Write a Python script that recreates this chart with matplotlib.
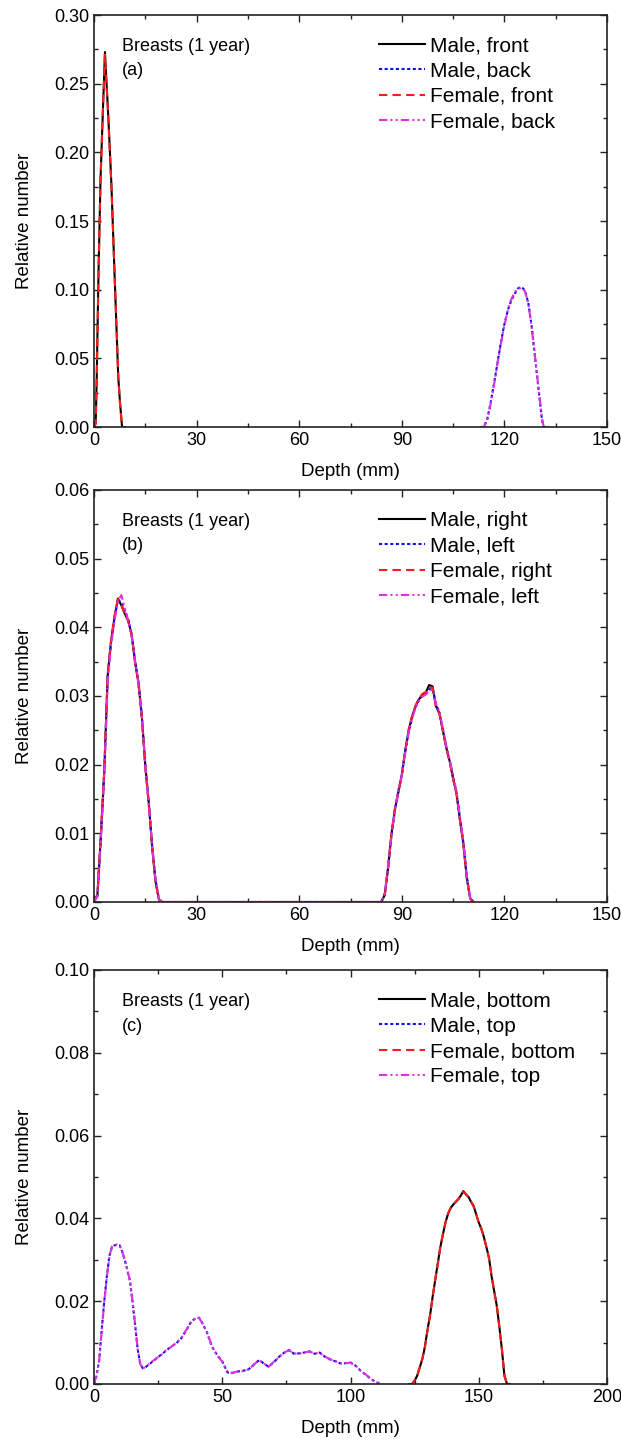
import matplotlib
matplotlib.use("Agg")
import matplotlib.pyplot as plt
from matplotlib.ticker import MultipleLocator, FormatStrFormatter

plt.rcParams['font.family'] = ['Liberation Sans', 'DejaVu Sans']

# ---- panel (a): front / back ----
a_front_x = [0, 0.5, 0.8, 1.3, 1.9, 2.6, 3.2, 4.2, 5.1, 6.1, 7.1, 7.6, 8.2, 9]
a_male_front = [0, 0.003, 0.036, 0.11, 0.18, 0.23, 0.273, 0.225, 0.176, 0.105, 0.036, 0.018, 0, 0]
a_female_front = [0, 0.002, 0.035, 0.108, 0.179, 0.232, 0.271, 0.224, 0.175, 0.106, 0.037, 0.017, 0, 0]
a_back_x = [113, 114, 115, 116, 117, 118, 119, 120, 121, 122, 123, 124, 125, 126,
            127, 128, 129, 130, 131, 131.5, 133]
a_male_back = [0, 0, 0.006, 0.018, 0.032, 0.047, 0.062, 0.075, 0.085, 0.092, 0.097,
               0.101, 0.102, 0.0995, 0.09, 0.073, 0.05, 0.027, 0.005, 0, 0]
a_female_back = [0, 0, 0.005, 0.017, 0.031, 0.047, 0.061, 0.074, 0.085, 0.093, 0.098,
                 0.101, 0.101, 0.099, 0.09, 0.072, 0.05, 0.028, 0.006, 0, 0]

# ---- panel (b): right / left ----
b_x = list(range(0, 21)) + list(range(84, 112))
b_male_right = [0, 0.001, 0.0096, 0.019, 0.033, 0.038, 0.0415, 0.0442, 0.0432, 0.042, 0.041,
                0.039, 0.035, 0.032, 0.027, 0.0199, 0.0145, 0.008, 0.003, 0.0003, 0,
                0, 0.001, 0.005, 0.010, 0.0135, 0.016, 0.0185, 0.022, 0.025, 0.027, 0.0285,
                0.0295, 0.0302, 0.0305, 0.0316, 0.0314, 0.0285, 0.0275, 0.025, 0.0225, 0.0205,
                0.018, 0.0158, 0.012, 0.0085, 0.0035, 0.0005, 0]
b_male_left = [0, 0.0009, 0.0094, 0.0188, 0.0328, 0.0378, 0.0414, 0.044, 0.0436, 0.0424, 0.0412,
               0.0388, 0.0352, 0.0318, 0.0268, 0.0198, 0.0146, 0.0082, 0.0031, 0.0004, 0,
               0, 0.0012, 0.0052, 0.0098, 0.0134, 0.0162, 0.0186, 0.0219, 0.0248, 0.0268, 0.0284,
               0.0294, 0.03, 0.0304, 0.031, 0.031, 0.0288, 0.0276, 0.0252, 0.0226, 0.0206,
               0.0182, 0.016, 0.0122, 0.0087, 0.0037, 0.0006, 0]
b_female_right = [0, 0.0011, 0.0097, 0.0192, 0.0332, 0.0382, 0.0417, 0.0441, 0.0433, 0.0419, 0.0409,
                  0.0389, 0.0349, 0.0319, 0.0269, 0.0197, 0.0143, 0.0079, 0.0029, 0.0003, 0,
                  0, 0.0009, 0.0049, 0.0101, 0.0136, 0.0161, 0.0184, 0.0221, 0.0251, 0.0271, 0.0286,
                  0.0296, 0.0303, 0.0306, 0.0313, 0.0312, 0.0284, 0.0274, 0.0249, 0.0224, 0.0204,
                  0.0179, 0.0157, 0.0119, 0.0084, 0.0034, 0.0005, 0]
b_female_left = [0, 0.0008, 0.009, 0.0185, 0.032, 0.0375, 0.041, 0.0438, 0.0447, 0.0428, 0.041,
                 0.0388, 0.035, 0.0318, 0.027, 0.0198, 0.0145, 0.0082, 0.0032, 0.0004, 0,
                 0, 0.0011, 0.0051, 0.0099, 0.0133, 0.0161, 0.0185, 0.0218, 0.0247, 0.0267, 0.0283,
                 0.0293, 0.0299, 0.0302, 0.0308, 0.0309, 0.0289, 0.0277, 0.0253, 0.0227, 0.0207,
                 0.0183, 0.0161, 0.0123, 0.0088, 0.0038, 0.0006, 0]

# ---- panel (c): bottom / top ----
c_top_x = [0, 1, 2, 3, 4, 5, 6, 7, 8, 9, 10, 11, 12, 13, 14, 15, 16, 17, 18, 19, 20,
           22, 24, 26, 28, 30, 32, 34, 36, 38, 40, 41, 42, 44, 46, 48, 50, 52, 54, 56,
           58, 60, 62, 64, 65, 66, 68, 70, 72, 74, 76, 78, 80, 82, 84, 86, 88, 90, 92,
           94, 96, 98, 100, 102, 104, 106, 108, 110, 112]
c_male_top = [0, 0.002, 0.0056, 0.013, 0.020, 0.026, 0.031, 0.0331, 0.0335, 0.0336, 0.0335,
              0.032, 0.03, 0.0275, 0.025, 0.02, 0.0145, 0.0085, 0.005, 0.0038, 0.004,
              0.005, 0.006, 0.007, 0.008, 0.009, 0.0098, 0.011, 0.013, 0.0152, 0.016, 0.016,
              0.015, 0.0125, 0.009, 0.007, 0.0055, 0.0028, 0.0027, 0.003, 0.0032, 0.0034,
              0.0045, 0.0056, 0.0056, 0.005, 0.0042, 0.0052, 0.0065, 0.0075, 0.0082, 0.0073,
              0.0074, 0.0076, 0.0079, 0.0073, 0.0076, 0.0066, 0.006, 0.0055, 0.005, 0.005,
              0.0052, 0.0044, 0.0032, 0.0022, 0.0012, 0.0004, 0]
c_female_top = [0, 0.0021, 0.0057, 0.0128, 0.0198, 0.0258, 0.0308, 0.0332, 0.0336, 0.0337, 0.0334,
                0.0321, 0.0299, 0.0276, 0.0249, 0.0201, 0.0146, 0.0086, 0.0049, 0.0037, 0.0041,
                0.0051, 0.0061, 0.0069, 0.0081, 0.0089, 0.0099, 0.0111, 0.0131, 0.0151, 0.0161, 0.0159,
                0.0149, 0.0126, 0.0091, 0.0069, 0.0054, 0.0029, 0.0026, 0.0031, 0.0031, 0.0035,
                0.0044, 0.0057, 0.0055, 0.0051, 0.0041, 0.0053, 0.0064, 0.0076, 0.0081, 0.0074,
                0.0073, 0.0077, 0.0078, 0.0074, 0.0075, 0.0067, 0.0059, 0.0056, 0.0049, 0.0051,
                0.0051, 0.0045, 0.0031, 0.0023, 0.0011, 0.0005, 0]
c_bottom_x = list(range(123, 163))
c_male_bottom = [0, 0, 0.0008, 0.002, 0.004, 0.006, 0.009, 0.013, 0.0165, 0.021, 0.025, 0.029,
                 0.033, 0.036, 0.039, 0.041, 0.0425, 0.0433, 0.044, 0.0446, 0.0455, 0.0466,
                 0.0458, 0.0452, 0.044, 0.043, 0.041, 0.039, 0.0375, 0.0355, 0.033, 0.0305,
                 0.026, 0.0225, 0.019, 0.014, 0.0085, 0.002, 0, 0]
c_female_bottom = [0, 0, 0.0009, 0.0021, 0.0041, 0.0061, 0.0088, 0.0128, 0.0166, 0.0208, 0.0252, 0.0288,
                   0.0331, 0.0362, 0.0388, 0.0412, 0.0424, 0.0434, 0.0439, 0.0447, 0.0456, 0.0464,
                   0.0459, 0.045, 0.0441, 0.0428, 0.0411, 0.0388, 0.0376, 0.0354, 0.0331, 0.0303,
                   0.0262, 0.0224, 0.0191, 0.0139, 0.0086, 0.0021, 0, 0]

# line styles
black_kw = dict(color='black', lw=1.5, linestyle='-')
blue_kw = dict(color='#1010ee', lw=1.5, linestyle=(0, (1.5, 1.2)))
red_kw = dict(color='#ff1a1a', lw=1.5, linestyle=(0, (4, 2.5)))
mag_kw = dict(color='#e030e0', lw=1.5, linestyle=(0, (4, 1.5, 1, 1.5, 1, 1.5)))

fig = plt.figure(figsize=(6.21, 14.43), dpi=100)
W, H = 621, 1443
left, right = 94, 607
boxes = [(15, 427), (490, 902), (970, 1384)]
axs = [fig.add_axes([left / W, 1 - b / H, (right - left) / W, (b - t) / H]) for t, b in boxes]

ax = axs[0]
ax.plot(a_front_x, a_male_front, label='Male, front', **black_kw)
ax.plot(a_back_x, a_male_back, label='Male, back', **blue_kw)
ax.plot(a_front_x, a_female_front, label='Female, front', **red_kw)
ax.plot(a_back_x, a_female_back, label='Female, back', **mag_kw)
ax.set_xlim(0, 150)
ax.set_ylim(0, 0.30)
ax.xaxis.set_major_locator(MultipleLocator(30))
ax.xaxis.set_minor_locator(MultipleLocator(15))
ax.yaxis.set_major_locator(MultipleLocator(0.05))
ax.yaxis.set_minor_locator(MultipleLocator(0.025))

ax = axs[1]
ax.plot(b_x, b_male_right, label='Male, right', **black_kw)
ax.plot(b_x, b_male_left, label='Male, left', **blue_kw)
ax.plot(b_x, b_female_right, label='Female, right', **red_kw)
ax.plot(b_x, b_female_left, label='Female, left', **mag_kw)
ax.set_xlim(0, 150)
ax.set_ylim(0, 0.06)
ax.xaxis.set_major_locator(MultipleLocator(30))
ax.xaxis.set_minor_locator(MultipleLocator(15))
ax.yaxis.set_major_locator(MultipleLocator(0.01))
ax.yaxis.set_minor_locator(MultipleLocator(0.005))

ax = axs[2]
ax.plot(c_bottom_x, c_male_bottom, label='Male, bottom', **black_kw)
ax.plot(c_top_x, c_male_top, label='Male, top', **blue_kw)
ax.plot(c_bottom_x, c_female_bottom, label='Female, bottom', **red_kw)
ax.plot(c_top_x, c_female_top, label='Female, top', **mag_kw)
ax.set_xlim(0, 200)
ax.set_ylim(0, 0.10)
ax.xaxis.set_major_locator(MultipleLocator(50))
ax.xaxis.set_minor_locator(MultipleLocator(25))
ax.yaxis.set_major_locator(MultipleLocator(0.02))
ax.yaxis.set_minor_locator(MultipleLocator(0.01))

for ax, tag in zip(axs, ['(a)', '(b)', '(c)']):
    ax.yaxis.set_major_formatter(FormatStrFormatter('%.2f'))
    ax.tick_params(which='both', direction='in', top=True, right=True,
                   labelsize=13, width=1, colors='#222222', labelcolor='black')
    ax.tick_params(which='major', length=5)
    ax.tick_params(which='minor', length=3)
    for s in ax.spines.values():
        s.set_linewidth(1.2)
        s.set_color('#222222')
    ax.set_xlabel('Depth (mm)', fontsize=13.5, labelpad=10)
    ax.set_ylabel('Relative number', fontsize=13.5, labelpad=15)
    ax.text(0.055, 0.945, 'Breasts (1 year)\n' + tag, transform=ax.transAxes,
            fontsize=13, va='top', ha='left', linespacing=1.6)
    ax.legend(loc='upper left', bbox_to_anchor=(0.555, 0.948), frameon=False,
              fontsize=15, handlelength=2.2, handletextpad=0.25, labelspacing=0.3,
              borderpad=0, borderaxespad=0)

fig.savefig('out.png', dpi=100)
